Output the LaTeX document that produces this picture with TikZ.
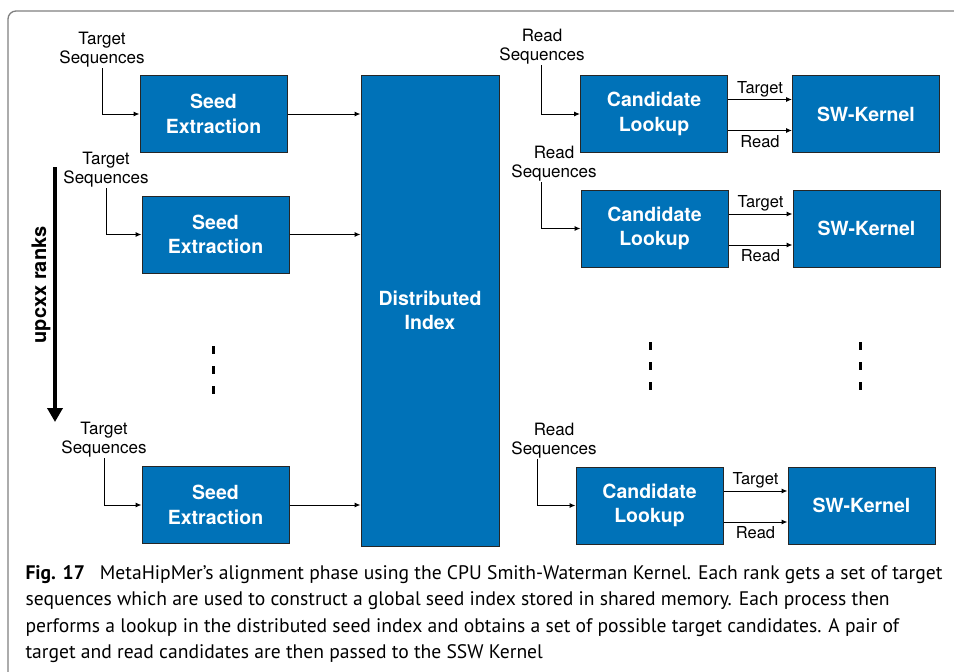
\documentclass[tikz,border=0pt]{standalone}
\usepackage{fontspec}
\setmainfont{TeX Gyre Heros}
\newfontfamily\capfont{PT Sans}
\usepackage{tikz}
\usetikzlibrary{arrows,arrows.meta,positioning}
\definecolor{boxblue}{RGB}{0,114,184}

\begin{document}
\begin{tikzpicture}[x=1pt,y=-1pt,->,>={Latex[length=6pt,width=5pt]},line width=1pt]
\tikzstyle{block} = [rectangle, draw=black!85, fill=boxblue, text=white, font=\fontsize{19.5}{24.5}\selectfont\bfseries, align=center, minimum width=147pt, minimum height=77pt, inner sep=0pt]
\tikzstyle{seqlabel} = [align=center, anchor=south, font=\fontsize{17}{19}\selectfont, inner sep=0pt]
\tikzstyle{portlabel} = [font=\fontsize{16.5}{19}\selectfont, inner sep=2pt]
\tikzstyle{vdots} = [-, line width=3pt, dash pattern=on 8pt off 12pt]
\useasboundingbox (0,0) rectangle (954,672);
\draw[-, gray, line width=1.3pt, rounded corners=8pt] (8,672) |- (954,11);

\node[block] (se1) at (213.5,114) {Seed\\Extraction};
\node[block] (se2) at (215.5,234.5) {Seed\\Extraction};
\node[block] (se3) at (215.5,505) {Seed\\Extraction};
\node[block, minimum width=138pt, minimum height=471pt] (di) at (430,310.5) {Distributed\\Index};
\node[block] (cl1) at (654,114) {Candidate\\Lookup};
\node[block] (cl2) at (654.5,228.5) {Candidate\\Lookup};
\node[block] (cl3) at (649.5,505.5) {Candidate\\Lookup};
\node[block, right=64pt of cl1] (sw1) {SW-Kernel};
\node[block, right=64pt of cl2] (sw2) {SW-Kernel};
\node[block, right=64pt of cl3] (sw3) {SW-Kernel};

\node[seqlabel] (ts1) at (102,68) {Target\\Sequences};
\node[seqlabel] (ts2) at (106,188) {Target\\Sequences};
\node[seqlabel] (ts3) at (104,458) {Target\\Sequences};
\node[seqlabel] (rs1) at (542,65) {Read\\Sequences};
\node[seqlabel] (rs2) at (554,182) {Read\\Sequences};
\node[seqlabel] (rs3) at (554,459) {Read\\Sequences};

\draw (ts1.south) |- (se1.west);
\draw (ts2.south) |- (se2.west);
\draw (ts3.south) |- (se3.west);
\draw ([xshift=-1pt]rs1.south) |- (cl1.west);
\draw ([xshift=-13pt]rs2.south) |- (cl2.west);
\draw ([xshift=-17pt]rs3.south) |- (cl3.west);
\path (se1.east) edge (se1.east -| di.west)
      (se2.east) edge (se2.east -| di.west)
      (se3.east) edge (se3.east -| di.west);
\foreach \i in {1,2,3}
  \path ([yshift=14.5pt]cl\i.east) edge node[portlabel, above]{Target} ([yshift=14.5pt]cl\i.east -| sw\i.west)
        ([yshift=-16.5pt]cl\i.east) edge node[portlabel, below=2pt]{Read} ([yshift=-16.5pt]cl\i.east -| sw\i.west);

% ranks axis
\coordinate (rtop) at (55,167);
\coordinate (rbot) at (55,422);
\draw[line width=3.5pt, -{Triangle[length=14pt,width=15pt]}] (rtop) -- (rbot);
\node[rotate=90, font=\fontsize{20}{24}\selectfont\bfseries] (ranks) at (41,285) {upcxx ranks};

\foreach \x/\y in {213/350, 650/346, 860/346}
  \draw[vdots] (\x,\y-4) -- (\x,\y+44);

\node[anchor=north west, inner sep=0pt, align=left, font=\capfont\fontsize{19.6}{26.5}\selectfont] (caption) at (25,565)
  {\textbf{Fig. 17}\hspace{0.5em} MetaHipMer’s alignment phase using the CPU Smith-Waterman Kernel. Each rank gets a set of target\\
   sequences which are used to construct a global seed index stored in shared memory. Each process then\\
   performs a lookup in the distributed seed index and obtains a set of possible target candidates. A pair of\\
   target and read candidates are then passed to the SSW Kernel};
\end{tikzpicture}
\end{document}
